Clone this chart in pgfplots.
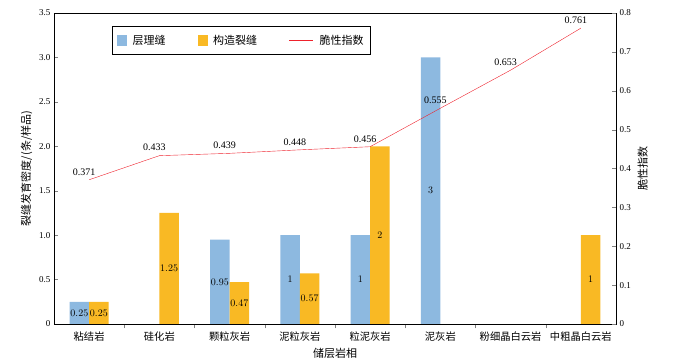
\documentclass[border=0pt]{standalone}
\usepackage{fontspec}
\setmainfont{Liberation Serif}
\newfontfamily\cjk{Noto Sans CJK SC}
\usepackage{pgfplots}
\pgfplotsset{compat=1.18}
\definecolor{cblue}{RGB}{141,185,224}
\definecolor{corange}{RGB}{249,185,36}
\definecolor{cred}{RGB}{238,34,44}
\begin{document}
\begin{tikzpicture}
\begin{axis}[
  scale only axis, width=562pt, height=311pt,
  xmin=-0.5, xmax=7.5, ymin=0, ymax=3.5,
  ytick={0,0.5,1,1.5,2,2.5,3,3.5},
  yticklabels={0,0.5,1.0,1.5,2.0,2.5,3.0,3.5},
  xtick={0,...,7},
  xticklabels={{\cjk 粘结岩},{\cjk 硅化岩},{\cjk 颗粒灰岩},{\cjk 泥粒灰岩},{\cjk 粒泥灰岩},{\cjk 泥灰岩},{\cjk 粉细晶白云岩},{\cjk 中粗晶白云岩}},
  major x tick style={draw=none},
  minor xtick={0.5,1.5,...,6.5},
  minor tick length=0.15cm,
  xtick pos=bottom, ytick pos=left,
  tick label style={font=\fontsize{9}{10}\selectfont},
  xticklabel style={font=\fontsize{10.3}{11}\selectfont},
  ylabel={\cjk 裂缝发育密度/(条/样品)},
  xlabel={\cjk 储层岩相},
  label style={font=\fontsize{11}{12}\selectfont},
  ybar=0pt, bar width=19.5pt,
  nodes near coords,
  visualization depends on={y \as \rawy},
  every node near coord/.append style={anchor=center, yshift={-44.43pt*\rawy}, font=\fontsize{9.7}{10}\selectfont, text=black},
]
\addplot[fill=cblue, draw=none] coordinates {(0,0.25) (2,0.95) (3,1) (4,1) (5,3)};
\addplot[fill=corange, draw=none] coordinates {(0,0.25) (1,1.25) (2,0.47) (3,0.57) (4,2) (7,1)};
\coordinate (sw) at (rel axis cs:0,0);
\coordinate (ne) at (rel axis cs:1,1);
\end{axis}
\begin{axis}[
  scale only axis, width=562pt, height=311pt,
  xmin=-0.5, xmax=7.5, ymin=0, ymax=0.8,
  axis y line*=right, axis x line=none,
  ytick={0,0.1,0.2,0.3,0.4,0.5,0.6,0.7,0.8},
  yticklabels={0,0.1,0.2,0.3,0.4,0.5,0.6,0.7,0.8},
  tick label style={font=\fontsize{9}{10}\selectfont},
  ylabel={\cjk 脆性指数},
  label style={font=\fontsize{11}{12}\selectfont},
  legend style={at={(0.103,0.958)}, anchor=north west, legend columns=3, draw=black, font=\cjk\fontsize{11}{12}\selectfont, inner xsep=5pt, inner ysep=6.5pt,
    /tikz/every odd column/.append style={column sep=4pt},
    /tikz/every even column/.append style={column sep=30pt}},
  legend cell align=left,
]
\addlegendimage{legend image code/.code={\fill[cblue] (0cm,-0.16cm) rectangle (0.32cm,0.16cm);}}
\addlegendentry{层理缝}
\addlegendimage{legend image code/.code={\fill[corange] (0cm,-0.16cm) rectangle (0.32cm,0.16cm);}}
\addlegendentry{构造裂缝}
\addplot[cred, thin, mark=none, point meta=explicit symbolic, nodes near coords,
  legend image code/.code={\draw[cred, thin] (0cm,0cm) -- (0.85cm,0cm);},
  every node near coord/.append style={anchor=south, xshift=-5pt, yshift=1pt, font=\fontsize{10}{11}\selectfont, text=black}]
  coordinates {(0,0.371)[0.371] (1,0.433)[0.433] (2,0.439)[0.439] (3,0.448)[0.448] (4,0.456)[0.456] (5,0.555)[0.555] (6,0.653)[0.653] (7,0.761)[0.761]};
\addlegendentry{脆性指数}
\end{axis}
\path ([shift={(-54pt,-37pt)}]sw) rectangle ([shift={(57pt,13pt)}]ne);
\end{tikzpicture}
\end{document}
